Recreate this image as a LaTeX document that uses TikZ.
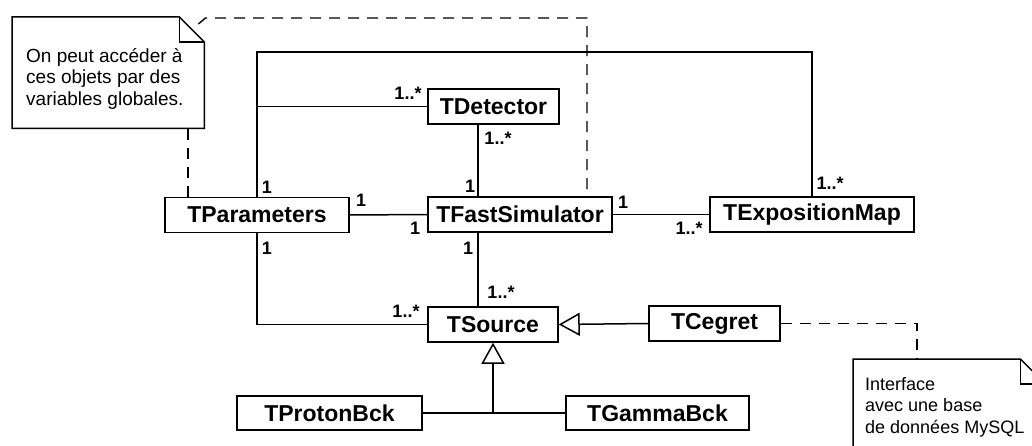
\documentclass[tikz,border=0pt]{standalone}
\usepackage{fontspec}
\setmainfont{Liberation Sans}
\usetikzlibrary{arrows.meta,positioning}

\begin{document}
\begin{tikzpicture}[
    x=1pt, y=-1pt,
    class/.style={draw, line width=1.5pt, fill=white, inner sep=0pt, minimum height=35pt, font=\bfseries\fontsize{23}{27}\selectfont},
    mult/.style={inner sep=0pt, font=\bfseries\fontsize{18}{20}\selectfont},
    notebg/.style={inner sep=0pt, anchor=north west, minimum width=192pt},
    notetext/.style={inner sep=0pt, align=left, anchor=north west},
    notebox/.style={line width=1.5pt, line join=miter},
    assoc/.style={line width=1.5pt},
    inherit/.style={line width=1.5pt, -{Triangle[open, width=23pt, length=21pt]}},
    dashline/.style={line width=1.4pt, dash pattern=on 11pt off 8pt}
  ]
    \useasboundingbox (0,0) rectangle (1032,446);
    \clip (0,0) rectangle (1032,446);

    % Classes
    \node[class, minimum width=184pt] (tparam) at (257,215) {TParameters};
    \node[class, minimum width=131pt] (tdet) at (493.5,106.5) {TDetector};
    \node[class, minimum width=184pt] (tfast) at (520,214.5) {TFastSimulator};
    \node[class, minimum width=204pt] (texpo) at (812,214.5) {TExpositionMap};
    \node[class, minimum width=130pt] (tsrc) at (493,324.5) {TSource};
    \node[class, minimum width=131pt] (tcegret) at (714.5,323.5) {TCegret};
    \node[class, minimum width=185pt, minimum height=34pt] (tproton) at (329.5,413) {TProtonBck};
    \node[class, minimum width=183pt, minimum height=34pt] (tgamma) at (657.5,413) {TGammaBck};

    % Notes
    \node[notebg, minimum height=111pt] (note1) at (12,17) {};
    \node[notetext, font=\fontsize{19}{21.7}\selectfont] (note1txt) at ([xshift=14pt,yshift=-31pt]note1.north west)
      {On peut accéder à\\ces objets par des\\variables globales.};
    \draw[notebox] (note1.north west) -- ([xshift=-25pt]note1.north east) -- ([yshift=-25pt]note1.north east)
      -- (note1.south east) -- (note1.south west) -- cycle;
    \draw[notebox] ([xshift=-25pt]note1.north east) |- ([yshift=-25pt]note1.north east);

    \node[notebg, minimum height=120pt] (note2) at (853,359) {};
    \node[notetext, font=\fontsize{18}{21.7}\selectfont] (note2txt) at ([xshift=12pt,yshift=-18pt]note2.north west)
      {Interface\\avec une base\\de données MySQL};
    \draw[notebox] (note2.north west) -- ([xshift=-25pt]note2.north east) -- ([yshift=-25pt]note2.north east)
      -- (note2.south east) -- (note2.south west) -- cycle;
    \draw[notebox] ([xshift=-25pt]note2.north east) |- ([yshift=-25pt]note2.north east);

    % Associations
    \coordinate (frametop) at (0,52);
    \draw[assoc] (tparam.north) -- (tparam.north |- frametop) -| (texpo.north);
    \draw[assoc] (tdet.west) -- (tdet.west -| tparam.north);
    \draw[assoc] ([xshift=-15.5pt]tdet.south) -- ([xshift=-15.5pt]tdet.south |- tfast.north);
    \draw[assoc] (tparam.east) -- (tfast.west);
    \draw[assoc] (tfast.east) -- (texpo.west);
    \draw[assoc] ([xshift=-15pt]tsrc.north) -- ([xshift=-15pt]tsrc.north |- tfast.south);
    \draw[assoc] (tparam.south) |- (tsrc.west);

    % Inheritance
    \draw[inherit] (tcegret.west) -- (tsrc.east);
    \draw[assoc] (tproton.east) -- (tgamma.west);
    \draw[inherit] (tproton.east -| tsrc.south) -- (tsrc.south);

    % Note anchors
    \draw[dashline] ([xshift=-6pt,yshift=-7pt]note1.north east) -- ([xshift=1pt,yshift=-1pt]note1.north east)
      -| ([xshift=67pt]tfast.north);
    \draw[dashline] ([xshift=-69pt]tparam.north) -- ([xshift=-69pt]tparam.north |- note1.south);
    \draw[dashline] (tcegret.east) -| ([xshift=64pt]note2.north west);

    % Multiplicities
    \node[mult] (m1) at (267,187) {1};
    \node[mult] (m2) at (408,93) {1..*};
    \node[mult] (m3) at (498,138) {1..*};
    \node[mult] (m4) at (470,186) {1};
    \node[mult] (m5) at (830,183) {1..*};
    \node[mult] (m6) at (361,200) {1};
    \node[mult] (m7) at (415,228) {1};
    \node[mult] (m8) at (623,202) {1};
    \node[mult] (m9) at (689,228) {1..*};
    \node[mult] (m10) at (267,248) {1};
    \node[mult] (m11) at (468,248) {1};
    \node[mult] (m12) at (501,292) {1..*};
    \node[mult] (m13) at (406,311) {1..*};
  \end{tikzpicture}
\end{document}
